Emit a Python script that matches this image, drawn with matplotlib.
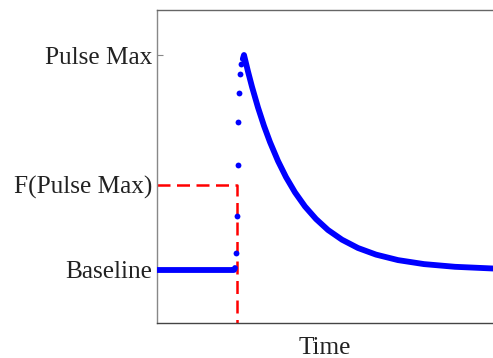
import matplotlib
matplotlib.use("Agg")
import matplotlib.pyplot as plt

# signal (time and signal in arbitrary units)
baseline_t = [0, 20, 40, 60, 77, 78]
baseline_y = [53, 53, 53, 53, 53, 55]

rise_t = [79.0, 79.7, 80.7, 81.3, 82.3, 83.0, 83.7]
rise_y = [70, 107, 158, 201, 230, 249, 259]

decay_t = [85.8, 87, 91, 95, 101, 107, 113, 121, 129, 138, 148, 159, 171,
           185, 201, 219, 241, 267, 298, 336]
decay_y = [264, 268, 251.5, 236.2, 215.5, 197.1, 180.9, 162, 145.9, 130.6,
           116.5, 104, 93, 83.3, 75, 68.4, 62.9, 58.9, 56.2, 54.5]

level_labels = ["Baseline", "F(Pulse Max)", "Pulse Max"]
level_values = [53, 138, 268]
t_cross = 80  # time where the signal crosses F(Pulse Max)

plt.rcParams["font.family"] = ["Liberation Serif", "DejaVu Serif"]

fig = plt.figure(figsize=(4.93, 3.58), dpi=100)
ax = fig.add_axes([157 / 493, 1 - 323 / 358, 336 / 493, 313 / 358])

# red dashed guide
ax.plot([0, t_cross, t_cross], [level_values[1], level_values[1], 0],
        color="#ff0000", lw=1.8, dashes=(5.2, 2.6), zorder=2, clip_on=False)

blue = "#0000ff"
ax.plot(baseline_t, baseline_y, color=blue, lw=4.2, solid_capstyle="round", zorder=3)
ax.plot(decay_t, decay_y, color=blue, lw=4.2, solid_capstyle="round",
        solid_joinstyle="round", zorder=3)
ax.plot(rise_t, rise_y, "o", color=blue, ms=4.2, mec="none", zorder=4)

ax.set_xlim(0, 336)
ax.set_ylim(0, 313)
ax.set_xticks([])
ax.set_yticks(level_values)
ax.set_yticklabels(level_labels, fontsize=18.2, color="#222222")
ax.tick_params(axis="y", direction="in", length=4, width=0.8, color="#888888", pad=3.5)
ax.set_xlabel("Time", fontsize=18.2, color="#222222", labelpad=10)

ax.spines["right"].set_visible(False)
ax.spines["left"].set_color("#888888")
ax.spines["top"].set_color("#666666")
ax.spines["bottom"].set_color("#444444")
for s in ["left", "top", "bottom"]:
    ax.spines[s].set_linewidth(1.0)

fig.savefig("out.png", dpi=100)
